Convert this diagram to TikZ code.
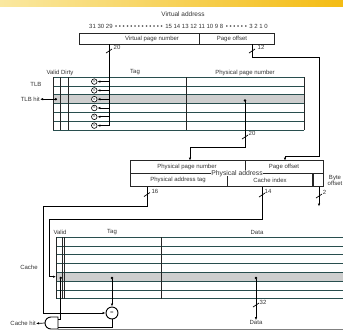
\documentclass[tikz,border=0pt]{standalone}
\usepackage{fontspec}
\setmainfont{Liberation Sans}
\usetikzlibrary{arrows.meta}

\newcommand{\bitdots}[1]{\foreach \k in {1,...,#1}{\hbox to 3.8pt{\hss\textbullet\hss}}}

\begin{document}
\begin{tikzpicture}[x=1pt,y=-1pt,
  lbl/.style={font=\fontsize{6}{7}\selectfont, text=black!80, inner sep=0pt},
  wire/.style={line width=0.9pt, black},
  tip/.style={-{Latex[length=3pt,width=2.4pt]}},
  dottip/.style={{Circle[length=2.4pt]}-{Latex[length=3pt,width=2.4pt]}},
  dotonly/.style={{Circle[length=2.4pt]}-},
  rowline/.style={line width=0.7pt, tablecol},
  colline/.style={line width=0.7pt, black!85},
  boxline/.style={line width=0.7pt, black!85},
  busmark/.style={line width=0.7pt, black},
  tlbcmp/.style={draw, circle, line width=0.6pt, minimum size=5.6pt, inner sep=0pt, fill=white,
    font=\fontsize{4}{4}\selectfont},
]

% Colors
\definecolor{tablecol}{RGB}{40,78,78}
\definecolor{rowgray}{RGB}{206,206,206}
\definecolor{bannerl}{RGB}{250,232,160}
\definecolor{bannerr}{RGB}{244,188,20}

\useasboundingbox (0,0) rectangle (343,330);
\clip (0,0) rectangle (343,330);

% Banner strip on top
\shade[left color=bannerl, right color=bannerr] (0,0) rectangle (343,6.5);

% Virtual address
\node[lbl, font=\fontsize{6.5}{7}\selectfont] (vatitle) at (183,14) {Virtual address};
\node[lbl] (bits) at (178.5,26) {31 30 29 \bitdots{13} 15 14 13 12 11 10 9 8 \bitdots{6} 3 2 1 0};
\draw[boxline] (79,33) rectangle (274,44);
\draw[boxline] (199,33) -- (199,44);
\node[lbl] (vpnlbl) at (152,38.5) {Virtual page number};
\node[lbl] (offlbl) at (232,38.5) {Page offset};
\coordinate (vpnout) at (109,44);
\coordinate (offout) at (252,44);

% TLB
\fill[rowgray] (53,94.8) rectangle (304,103.6);
\foreach \i in {0,...,6} {
  \draw[rowline] (53,77.2+8.8*\i) -- (304,77.2+8.8*\i);
}
\foreach \x in {53,60.7,68.3,186,304} {
  \draw[colline] (\x,77.2) -- (\x,130);
}
\node[lbl] (vdlbl) at (60,72.5) {Valid Dirty};
\node[lbl] (ttaglbl) at (135,72.5) {Tag};
\node[lbl] (tppnlbl) at (245,72.5) {Physical page number};
\node[lbl] (tlblbl) at (36,84) {TLB};
\node[lbl, anchor=east] (tlbhit) at (40,99.2) {TLB hit};

% TLB compare
\foreach \i in {1,...,6} {
  \node[tlbcmp] (tc\i) at (94.3,81.6+8.8*\i-8.8) {=};
  \coordinate (vb\i) at (109,81.6+8.8*\i-8.8);
  \draw[wire, line width=0.7pt, tip] (vb\i) -- (tc\i.east);
}
\draw[wire] (vpnout) -- (vb6);
\draw[busmark] (106,53) -- (112,49);
\node[lbl] (n20a) at (117,47.5) {20};

\coordinate (tvalid) at (57,99.2);
\draw[wire, line width=0.7pt, dottip] (tvalid) -- (tlbhit.east);

% Page offset to physical address
\coordinate (paoff) at (285,160.7);
\draw[wire, tip] (offout) -- (252,57) -- (319,57) -- (319,156) -| (paoff);
\draw[busmark] (249,53) -- (255,49);
\node[lbl] (n12) at (261,47.5) {12};

% Physical page number to physical address
\coordinate (tppn) at (245,99.2);
\coordinate (pappn) at (190,160.7);
\draw[wire, dottip] (tppn) -- (245,147) -| (pappn);
\draw[busmark] (242,139) -- (248,135);
\node[lbl] (n20b) at (252,133.5) {20};

% Physical address
\draw[boxline] (130,160.7) rectangle (323,186.7);
\draw[boxline] (130,173.3) -- (323,173.3);
\draw[boxline] (245.3,160.7) -- (245.3,173.3);
\draw[boxline] (227,173.3) -- (227,186.7);
\draw[boxline, line width=1.1pt] (313,173.3) -- (313,186.7);
\node[lbl] (pappnlbl) at (187,167) {Physical page number};
\node[lbl] (paofflbl) at (284,167) {Page offset};
\node[lbl, fill=white, inner xsep=0.6pt, font=\fontsize{6.8}{7}\selectfont] (palbl) at (237,173.3) {Physical address};
\node[lbl] (patag) at (178,180) {Physical address tag};
\node[lbl] (paidx) at (270,180) {Cache index};
\node[lbl, align=center, font=\fontsize{6}{6}\selectfont] (bytelbl) at (335,180) {Byte\\offset};

% Cache
\fill[rowgray] (56,272.4) rectangle (343,281.1);
\foreach \i in {0,...,7} {
  \draw[rowline] (56,237.3+8.77*\i) -- (343,237.3+8.77*\i);
}
\foreach \x in {56,62.5,64.5,161.7} {
  \draw[colline] (\x,237.3) -- (\x,298.7);
}
\node[lbl] (cvlbl) at (60,232.3) {Valid};
\node[lbl] (ctaglbl) at (112,232.3) {Tag};
\node[lbl] (cdatalbl) at (257,232.3) {Data};
\node[lbl] (cachelbl) at (29,267.7) {Cache};

% Tag compare and hit
\node[draw, circle, line width=0.9pt, minimum size=12pt, inner sep=0pt, fill=white, lbl] (cmp) at (112,313) {=};
\coordinate (tagbus) at (147,186.7);
\draw[wire, tip] (tagbus) -- (147,206.7) -- (43.3,206.7) |- (cmp.west);
\draw[busmark] (144,196.5) -- (150,192.5);
\node[lbl] (n16) at (155,191) {16};

\coordinate (idxbus) at (262,186.7);
\coordinate (cidx) at (56,276.7);
\draw[wire, tip] (idxbus) -- (262,219) -- (49.3,219) |- (cidx);
\draw[busmark] (259,197) -- (265,193);
\node[lbl] (n14) at (268,191) {14};

\coordinate (bytebus) at (319,186.7);
\coordinate (byteend) at (319,206.5);
\draw[wire, tip] (bytebus) -- (byteend);
\draw[busmark] (316,198) -- (322,194);
\node[lbl] (n2) at (324.5,192.5) {2};

\coordinate (ctag) at (112,276.7);
\draw[wire, dottip] (ctag) -- (cmp.north);

% AND gate
\draw[line width=0.9pt, fill=white] (58,317) -- (51,317) arc(270:90:6) -- (58,329) -- cycle;
\coordinate (gout) at (45,323);
\coordinate (gin1) at (58,319.5);
\coordinate (gin2) at (58,327);
\coordinate (cvalid) at (60.7,276.7);
\draw[wire, line width=0.7pt, dotonly] (cvalid) -- (60.7,319.5) -- (gin1);
\draw[wire] (cmp.south) -- (112,327) -- (gin2);
\node[lbl, anchor=east] (cachehit) at (36,323.5) {Cache hit};
\draw[wire, line width=0.7pt, tip] (gout) -- (cachehit.east);

% Data out
\coordinate (cdata) at (256,276.7);
\node[lbl] (dataout) at (256,322.5) {Data};
\draw[wire, dottip] (cdata) -- (dataout.north);
\draw[busmark] (253,307) -- (259,303);
\node[lbl] (n32) at (263,302) {32};

% Bottom rule
\draw[black!50, line width=0.6pt] (58,329.6) -- (343,329.6);

\end{tikzpicture}
\end{document}
